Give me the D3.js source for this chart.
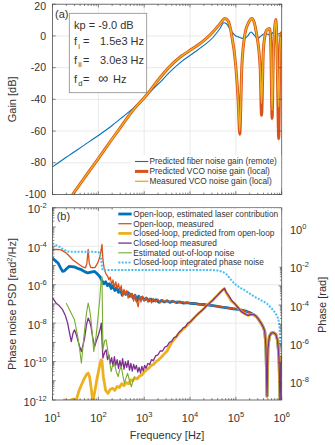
<!DOCTYPE html>
<html>
<head>
<meta charset="utf-8">
<script src="https://cdn.jsdelivr.net/npm/d3@7"></script>
<style>
  body { margin: 0; background: #fff; }
  svg { display: block; font-family: "Liberation Sans", Arial, sans-serif; }
</style>
</head>
<body>
<svg id="chart" width="335" height="445"></svg>
<script>
// Panel (a) noise gains: [log10 f (Hz), gain (dB)]
const fiberGain = [[1.0,-82.6],[1.3,-76.5],[1.7,-68.7],[2.0,-62.8],[2.3,-56.5],[2.53,-51.1],[2.75,-45.8],[3.05,-37.4],
  [3.34,-29.5],[3.55,-23],[3.8,-16.5],[4.06,-11.1],[4.3,-6],[4.5,-1],[4.65,4.5],[4.74,8.3],[4.8,7.5],[4.9,3],[5.0,0],
  [5.05,-0.6],[5.12,-1.4],[5.19,-1.6],[5.26,0],[5.33,2.5],[5.4,0.5],[5.47,-1.6],[5.55,0],[5.63,1.5],[5.7,1],[5.75,0.2],
  [5.8,2],[5.85,2.5],[5.9,1],[5.95,1.5],[6.0,2.3]];
const vcoGainPredicted = [[1.38,-102.5],[1.44,-100],[1.7,-89.4],[2.0,-77.3],[2.3,-65],[2.5,-57],[2.75,-47],[3.05,-37.4],
  [3.34,-26.5],[3.55,-19.5],[3.8,-13],[4.06,-8],[4.3,-3],[4.5,2.5],[4.65,7.5],[4.76,11],[4.83,9.5],[4.9,2],[5.0,-19.6],
  [5.05,-40.6],[5.085,-62],[5.13,-19.6],[5.2,1.5],[5.27,8],[5.35,11],[5.4,8.5],[5.45,1.5],[5.53,-19.6],[5.56,-50],
  [5.6,-9],[5.635,0],[5.67,3.6],[5.74,4.7],[5.765,-10],[5.79,-52],[5.82,-9],[5.85,6],[5.87,10.3],[5.89,1.5],
  [5.905,-19.6],[5.935,-64.8],[5.96,-9],[5.98,-1],[6.0,2.5]];
const vcoGainMeasured = [[1.38,-102.5],[1.44,-100],[1.7,-89.4],[2.0,-77.3],[2.3,-65],[2.5,-57],[2.75,-47],[3.05,-37.4],
  [3.34,-26.5],[3.55,-19.5],[3.8,-13],[4.06,-8],[4.3,-3],[4.5,2.5],[4.65,7.5],[4.76,11],[4.83,9.5],[4.9,2],[5.0,-19.6],
  [5.05,-40.6],[5.085,-60],[5.13,-19.6],[5.2,1.5],[5.27,8],[5.35,11],[5.4,8.5],[5.45,1.5],[5.53,-19.6],[5.56,-42.6],
  [5.6,-9],[5.635,0],[5.67,3.6],[5.74,4.7],[5.765,-10],[5.79,-47],[5.82,-9],[5.85,6],[5.87,10.3],[5.89,1.5],
  [5.905,-19.6],[5.935,-44.8],[5.96,-9],[5.98,-1],[6.0,2.5]];

// Panel (b) phase noise: [log10 f (Hz), log10 PSD (rad^2/Hz)]
const highFreqTail = [[5.55,-8.0],[5.6,-8.22],[5.63,-8.42],[5.655,-9.2],[5.68,-11.8],[5.70,-9.3],[5.73,-8.7],[5.77,-8.52],
  [5.82,-8.5],[5.87,-8.58],[5.91,-8.9],[5.94,-9.8],[5.965,-12.2],[5.98,-10.2],[6.0,-9.7]];
const olLaser = [[1.0,-4.61],[1.06,-4.75],[1.12,-4.87],[1.17,-5.1],[1.22,-5.31],[1.26,-5.28],[1.30,-5.18],[1.36,-5.05],
  [1.42,-5.06],[1.48,-5.08],[1.55,-5.15],[1.63,-5.22],[1.70,-5.32],[1.77,-5.39],[1.84,-5.35],[1.92,-5.31],[1.98,-5.45],
  [2.03,-5.57],[2.08,-5.8],[2.12,-5.95],[2.16,-5.85],[2.2,-6.05],[2.24,-5.95],[2.28,-6.2],[2.32,-6.05],[2.36,-6.3],
  [2.40,-6.15],[2.44,-6.4],[2.48,-6.2],[2.52,-6.55],[2.56,-6.35],[2.60,-6.5],[2.64,-6.4],[2.68,-6.6],[2.72,-6.5],
  [2.76,-6.7],[2.80,-6.55],[2.84,-6.85],[2.88,-6.6],[2.92,-6.75],[2.96,-6.65],[3.0,-6.8],[3.05,-6.7],[3.1,-6.85],
  [3.15,-6.75],[3.2,-6.85],[3.26,-6.78],[3.32,-6.92],[3.38,-6.82],[3.44,-6.9],[3.5,-6.84],[3.56,-6.92],[3.62,-6.86],
  [3.7,-6.93],[3.78,-6.9],[3.86,-6.96],[3.94,-6.93],[4.02,-6.98],[4.1,-6.97],[4.2,-7.02],[4.3,-7.03],[4.4,-7.06],
  [4.5,-7.09],[4.6,-7.13],[4.7,-7.17],[4.8,-7.2],[4.9,-7.24],[5.0,-7.27],[5.1,-7.31],[5.2,-7.36],[5.3,-7.45],
  [5.38,-7.55],[5.45,-7.66],[5.5,-7.82]].concat(highFreqTail);
const olMeasured = [[1.0,-4.18],[1.1,-4.17],[1.19,-4.19],[1.25,-4.28],[1.30,-4.35],[1.37,-4.52],[1.44,-4.70],[1.52,-4.85],
  [1.59,-4.96],[1.66,-5.08],[1.72,-5.12],[1.75,-4.9],[1.778,-4.17],[1.80,-4.85],[1.83,-5.1],[1.88,-5.12],[1.93,-5.1],
  [1.99,-4.85],[2.04,-4.5],[2.079,-3.91],[2.1,-4.7],[2.13,-5.22],[2.17,-5.45],[2.2,-5.55],[2.23,-5.75],[2.26,-5.6],
  [2.29,-6.0],[2.32,-5.75],[2.35,-6.15],[2.38,-5.85],[2.41,-6.2],[2.44,-5.95],[2.47,-6.35],[2.5,-6.05],[2.53,-6.6],
  [2.56,-6.25],[2.59,-6.55],[2.62,-6.3],[2.65,-6.7],[2.68,-6.4],[2.71,-6.65],[2.74,-6.45],[2.77,-6.85],[2.8,-6.5],
  [2.83,-6.8],[2.87,-7.15],[2.9,-6.6],[2.93,-6.9],[2.96,-6.6],[3.0,-6.85],[3.04,-6.65],[3.08,-6.9],[3.12,-6.7],
  [3.16,-6.95],[3.2,-6.72],[3.25,-6.9],[3.3,-6.75],[3.35,-6.95],[3.4,-6.78],[3.45,-6.9],[3.5,-6.8],[3.55,-6.92],
  [3.6,-6.82],[3.66,-6.93],[3.72,-6.85],[3.78,-6.95],[3.84,-6.88],[3.9,-6.97],[3.96,-6.92],[4.03,-7.0],[4.1,-6.95],
  [4.18,-7.04],[4.26,-7.0],[4.34,-7.07],[4.42,-7.05],[4.5,-7.1],[4.6,-7.12],[4.7,-7.16],[4.8,-7.2],[4.9,-7.23],
  [5.0,-7.27],[5.1,-7.31],[5.2,-7.36],[5.3,-7.45],[5.38,-7.55],[5.45,-7.66],[5.5,-7.82]].concat(highFreqTail);
const clPredicted = [[1.0,-13.5],[1.15,-12.9],[1.26,-12.0],[1.35,-12.05],[1.45,-11.95],[1.52,-12.0],[1.58,-11.5],
  [1.63,-11.22],[1.7,-10.85],[1.75,-10.65],[1.778,-10.6],[1.81,-10.8],[1.85,-11.5],[1.88,-12.1],[1.92,-11.6],[1.97,-10.9],
  [2.03,-10.2],[2.06,-9.91],[2.079,-9.95],[2.11,-10.8],[2.16,-11.5],[2.21,-11.65],[2.26,-11.45],[2.31,-11.39],[2.36,-11.5],
  [2.41,-11.3],[2.46,-11.35],[2.51,-11.15],[2.56,-11.25],[2.61,-11.1],[2.66,-11.15],[2.71,-10.95],[2.75,-11.0],
  [2.8,-10.85],[2.85,-10.9],[2.9,-10.75],[2.95,-10.7],[3.0,-10.55],[3.05,-10.43],[3.1,-10.35],[3.15,-10.2],[3.2,-10.15],
  [3.26,-10.0],[3.32,-9.9],[3.38,-9.75],[3.44,-9.6],[3.5,-9.45],[3.6,-9.0],[3.7,-8.72],[3.8,-8.42],[3.9,-8.2],[4.0,-7.95],
  [4.1,-7.7],[4.2,-7.47],[4.3,-7.25],[4.4,-7.0],[4.5,-6.8],[4.6,-6.55],[4.7,-6.3],[4.75,-6.2],[4.8,-6.45],[4.9,-6.85],
  [4.98,-7.0],[5.05,-7.2],[5.12,-7.4],[5.2,-7.52],[5.27,-7.6],[5.33,-7.55],[5.4,-7.56],[5.45,-7.66],[5.5,-7.82]]
  .concat(highFreqTail);
const clMeasured = [[1.0,-6.69],[1.08,-6.96],[1.15,-7.1],[1.22,-7.3],[1.28,-7.6],[1.33,-8.0],[1.37,-8.5],[1.41,-8.96],
  [1.45,-8.5],[1.48,-8.35],[1.52,-8.6],[1.55,-8.87],[1.59,-9.2],[1.63,-9.48],[1.67,-9.1],[1.70,-8.78],[1.74,-8.1],
  [1.778,-7.74],[1.81,-7.9],[1.84,-8.18],[1.88,-8.8],[1.92,-9.22],[1.96,-8.9],[1.99,-8.7],[2.03,-8.4],[2.065,-8.0],
  [2.08,-8.9],[2.10,-9.82],[2.14,-9.5],[2.17,-9.39],[2.2,-9.9],[2.23,-9.65],[2.26,-10.1],[2.29,-9.8],[2.32,-10.25],
  [2.35,-9.75],[2.38,-10.2],[2.41,-9.9],[2.44,-10.35],[2.47,-9.95],[2.5,-10.3],[2.53,-9.85],[2.56,-10.4],[2.59,-10.0],
  [2.62,-10.3],[2.65,-9.95],[2.68,-10.45],[2.71,-10.1],[2.74,-10.5],[2.77,-10.15],[2.8,-10.4],[2.83,-10.2],[2.86,-10.55],
  [2.89,-10.3],[2.92,-10.6],[2.95,-10.25],[2.98,-10.5],[3.01,-10.2],[3.04,-10.35],[3.08,-10.1],[3.12,-10.15],[3.16,-9.9],
  [3.2,-9.95],[3.25,-9.7],[3.3,-9.65],[3.35,-9.45],[3.4,-9.45],[3.45,-9.25],[3.5,-9.2],[3.55,-9.0],[3.6,-8.95],
  [3.65,-8.75],[3.7,-8.7],[3.75,-8.5],[3.8,-8.4],[3.85,-8.25],[3.9,-8.2],[3.95,-8.0],[4.0,-7.95],[4.06,-7.8],[4.12,-7.65],
  [4.18,-7.5],[4.24,-7.38],[4.3,-7.25],[4.36,-7.1],[4.43,-6.96],[4.5,-6.8],[4.57,-6.62],[4.64,-6.45],[4.7,-6.3],
  [4.75,-6.2],[4.79,-6.4],[4.85,-6.6],[4.92,-6.85],[4.98,-7.0],[5.05,-7.2],[5.12,-7.4],[5.2,-7.52],[5.27,-7.6],
  [5.33,-7.55],[5.4,-7.56],[5.45,-7.66],[5.5,-7.82]].concat(highFreqTail);
const outOfLoop = [[1.30,-6.96],[1.39,-7.4],[1.48,-7.83],[1.55,-8.7],[1.60,-9.5],[1.63,-10.09],[1.67,-9.1],[1.70,-8.35],
  [1.74,-7.5],[1.778,-6.96],[1.81,-7.3],[1.84,-7.83],[1.88,-8.9],[1.90,-9.48],[1.95,-8.7],[1.99,-7.8],[2.03,-6.78],
  [2.06,-5.8],[2.079,-5.57],[2.09,-7.5],[2.10,-9.39],[2.14,-8.9],[2.17,-8.87],[2.21,-9.5],[2.24,-9.91],[2.28,-10.52],
  [2.31,-10.2],[2.35,-10.09],[2.39,-10.5],[2.43,-10.78],[2.47,-10.4],[2.5,-10.26],[2.54,-10.8],[2.57,-11.13],[2.61,-10.8],
  [2.64,-10.61],[2.68,-11.0],[2.72,-11.31],[2.76,-10.95],[2.79,-10.78]];
// [log10 f (Hz), log10 integrated phase (rad)] on the right axis
const clIntegrated = [[1.0,-0.78],[1.08,-0.88],[1.15,-0.96],[1.22,-1.07],[1.28,-1.15],[1.33,-1.21],[1.5,-1.22],
  [1.75,-1.22],[1.99,-1.24],[2.03,-1.3],[2.06,-1.6],[2.085,-2.1],[2.1,-2.17],[3.0,-2.17],[4.0,-2.17],[4.5,-2.18],
  [4.6,-2.2],[4.7,-2.27],[4.79,-2.38],[4.85,-2.55],[4.9,-2.7],[5.01,-2.96],[5.1,-3.1],[5.19,-3.22],[5.3,-3.4],
  [5.41,-3.57],[5.55,-3.75],[5.67,-3.91],[5.75,-4.1],[5.81,-4.26],[5.87,-4.45],[5.92,-4.7],[5.95,-5.1],[5.96,-5.48],
  [5.97,-6.09],[6.0,-6.14]];

const gainTicks = [20, 0, -20, -40, -60, -80, -100];
const psdTickExp = [-2, -4, -6, -8, -10, -12];
const phaseTickExp = [0, -2, -4, -6, -8];
const freqTickExp = [1, 2, 3, 4, 5, 6];
const legendA = ['Predicted fiber noise gain (remote)', 'Predicted VCO noise gain (local)', 'Measured VCO noise gain (local)'];
const legendB = ['Open-loop, estimated laser contribution', 'Open-loop, measured', 'Closed-loop, predicted from open-loop',
  'Closed-loop measured', 'Estimated out-of-loop noise', 'Closed-loop integrated phase noise'];

const svg = d3.select('#chart');
const AXIS = '#4d4d4d', TXT = '#333', GRID = '#e4e4e4';
const C = { blue: '#0072BD', orange: '#D95319', yellow: '#EDB120', purple: '#7E2F8E', green: '#77AC30', cyan: '#4DBEEE' };

// Scales
const x = d3.scaleLog().domain([10, 1e6]).range([52.5, 281.7]);
const yA = d3.scaleLinear().domain([-100, 20]).range([194.5, 4.2]);
const yB = d3.scaleLog().domain([1e-12, 1e-2]).range([400, 207.8]);
const yP = d3.scaleLog().domain([10 ** -8.95, 10 ** 1.07]).range([400, 207.8]);
const L = x.range()[0], R = x.range()[1];
const isDecade = (d) => Math.abs(Math.log10(d) - Math.round(Math.log10(d))) < 1e-6;

// Clip paths
const defs = svg.append('defs');
[['clip-a', yA], ['clip-b', yB]].forEach(([id, y]) => {
    defs.append('clipPath').attr('id', id).append('rect')
        .attr('x', L).attr('y', y.range()[1])
        .attr('width', R - L).attr('height', y.range()[0] - y.range()[1]);
});

// Grid lines for one panel
function drawGrid(g, y, yVals) {
    let top = y.range()[1], bot = y.range()[0];
    g.selectAll(null).data(freqTickExp.slice(1, -1)).enter().append('line')
        .attr('x1', (d) => x(10 ** d)).attr('x2', (d) => x(10 ** d))
        .attr('y1', top).attr('y2', bot)
        .attr('stroke', GRID).attr('stroke-width', 0.8);
    g.selectAll(null).data(yVals).enter().append('line')
        .attr('x1', L).attr('x2', R)
        .attr('y1', (d) => y(d)).attr('y2', (d) => y(d))
        .attr('stroke', GRID).attr('stroke-width', 0.8);
}

// Frame with inward ticks on top and bottom
function drawFrame(g, y) {
    let top = y.range()[1], bot = y.range()[0];
    g.append('rect').attr('x', L).attr('y', top).attr('width', R - L).attr('height', bot - top)
        .attr('fill', 'none').attr('stroke', AXIS).attr('stroke-width', 0.8);
    g.selectAll(null).data(x.ticks()).enter().append('path')
        .attr('d', (d) => {
            let len = isDecade(d) ? 3.2 : 1.8;
            return 'M' + x(d) + ',' + top + 'v' + len + 'M' + x(d) + ',' + bot + 'v' + (-len);
        })
        .attr('stroke', AXIS).attr('stroke-width', 0.7);
}

function powLabel(sel, exp) {
    sel.text('10').append('tspan').attr('dy', -5).attr('font-size', 7.5).text(exp);
}

// ===== Panel (a) =====
const gA = svg.append('g').attr('id', 'panel-a');
drawGrid(gA, yA, gainTicks.slice(1, -1));

const lineA = d3.line().x((d) => x(10 ** d[0])).y((d) => yA(d[1])).curve(d3.curveMonotoneX);
const curvesA = gA.append('g').attr('clip-path', 'url(#clip-a)');
[
    { data: fiberGain, color: C.blue, width: 1.1 },
    { data: vcoGainPredicted, color: C.orange, width: 3 },
    { data: vcoGainMeasured, color: C.yellow, width: 1.4 },
].forEach((s) => {
    curvesA.append('path').attr('d', lineA(s.data)).attr('fill', 'none')
        .attr('stroke', s.color).attr('stroke-width', s.width).attr('stroke-linejoin', 'round');
});

drawFrame(gA, yA);
gA.selectAll(null).data(gainTicks).enter().append('path')
    .attr('d', (d) => 'M' + L + ',' + yA(d) + 'h3.2M' + R + ',' + yA(d) + 'h-3.2')
    .attr('stroke', AXIS).attr('stroke-width', 0.7);
// top label kept inside the page
gA.selectAll(null).data(gainTicks).enter().append('text')
    .attr('x', 46).attr('y', (d) => Math.max(yA(d) + 3.7, 9.8))
    .attr('text-anchor', 'end').attr('font-size', 10.5).attr('fill', TXT)
    .text((d) => d);
gA.append('text').attr('transform', 'translate(16,' + d3.mean(yA.range()) + ') rotate(-90)')
    .attr('text-anchor', 'middle').attr('font-size', 11).attr('fill', TXT).text('Gain [dB]');
gA.append('text').attr('x', 55).attr('y', 17.5).attr('font-size', 11).attr('fill', TXT).text('(a)');

// Parameter box
const box = gA.append('g');
box.append('rect').attr('x', 69.3).attr('y', 13.3).attr('width', 77.4).attr('height', 79.4)
    .attr('fill', '#fff').attr('stroke', '#8a8a8a').attr('stroke-width', 0.8);
box.append('text').attr('x', 74).attr('y', 29.3).attr('font-size', 11).attr('fill', TXT)
    .attr('xml:space', 'preserve').text('kp = -9.0 dB');
const params = [
    { sub: 'i', value: '1.5e3 Hz', y: 45 },
    { sub: 'ii', value: '3.0e3 Hz', y: 63.5 },
    { sub: 'd', value: null, y: 82.7 },
];
params.forEach((p) => {
    let t = box.append('text').attr('y', p.y).attr('font-size', 11).attr('fill', TXT);
    t.append('tspan').attr('x', 74).text('f');
    t.append('tspan').attr('x', 78.3).attr('dy', 3.5).attr('font-size', 7.5).text(p.sub);
    t.append('tspan').attr('x', 83).attr('dy', -3.5).text('=');
    if (p.value) {
        t.append('tspan').attr('x', 100).text(p.value);
    } else {
        t.append('tspan').attr('x', 98).attr('font-size', 14).text('\u221E');
        t.append('tspan').attr('x', 113).text('Hz');
    }
});

// Legend (a)
const legA = gA.append('g');
legA.append('rect').attr('x', 130).attr('y', 155).attr('width', R - 130.5).attr('height', 33).attr('fill', '#fff');
const legAStyles = [{ c: C.blue, w: 1.1 }, { c: C.orange, w: 3 }, { c: C.yellow, w: 1.4 }];
legA.selectAll(null).data(legendA).enter().append('line')
    .attr('x1', 135).attr('x2', 148.3)
    .attr('y1', (d, i) => 161.5 + i * 9.9).attr('y2', (d, i) => 161.5 + i * 9.9)
    .attr('stroke', (d, i) => legAStyles[i].c).attr('stroke-width', (d, i) => legAStyles[i].w);
legA.selectAll(null).data(legendA).enter().append('text')
    .attr('x', 149.5).attr('y', (d, i) => 161.5 + i * 9.9 + 2.9)
    .attr('font-size', 8.3).attr('fill', TXT).text((d) => d);

// ===== Panel (b) =====
const gB = svg.append('g').attr('id', 'panel-b');
drawGrid(gB, yB, psdTickExp.slice(1, -1).map((e) => 10 ** e));

const lineB = d3.line().x((d) => x(10 ** d[0])).y((d) => yB(10 ** d[1]));
const lineP = d3.line().x((d) => x(10 ** d[0])).y((d) => yP(10 ** d[1])).curve(d3.curveMonotoneX);
const curvesB = gB.append('g').attr('clip-path', 'url(#clip-b)');
const seriesB = [
    { data: olLaser, color: C.blue, width: 2.8 },
    { data: olMeasured, color: C.orange, width: 1.3 },
    { data: clPredicted, color: C.yellow, width: 2.8 },
    { data: clMeasured, color: C.purple, width: 1.3 },
    { data: outOfLoop, color: C.green, width: 1.1 },
];
seriesB.forEach((s) => {
    curvesB.append('path').attr('d', lineB(s.data)).attr('fill', 'none')
        .attr('stroke', s.color).attr('stroke-width', s.width).attr('stroke-linejoin', 'round');
});
curvesB.append('path').attr('d', lineP(clIntegrated)).attr('fill', 'none')
    .attr('stroke', C.cyan).attr('stroke-width', 2).attr('stroke-dasharray', '2,1.4');

drawFrame(gB, yB);
gB.selectAll(null).data(yB.ticks(20)).enter().append('path')
    .attr('d', (d) => 'M' + L + ',' + yB(d) + 'h' + (isDecade(d) ? 3.2 : 1.8))
    .attr('stroke', AXIS).attr('stroke-width', 0.7);
gB.selectAll(null).data(yP.ticks(20)).enter().append('path')
    .attr('d', (d) => 'M' + R + ',' + yP(d) + 'h' + (isDecade(d) ? -3.2 : -1.8))
    .attr('stroke', AXIS).attr('stroke-width', 0.7);

gB.selectAll(null).data(psdTickExp).enter().append('text')
    .attr('x', 46.7).attr('y', (d) => yB(10 ** d) + 5.5)
    .attr('text-anchor', 'end').attr('font-size', 11).attr('fill', TXT)
    .each(function (d) { powLabel(d3.select(this), d); });
gB.selectAll(null).data(phaseTickExp).enter().append('text')
    .attr('x', 290).attr('y', (d) => yP(10 ** d) + 5.5)
    .attr('font-size', 11).attr('fill', TXT)
    .each(function (d) { powLabel(d3.select(this), d); });
gB.selectAll(null).data(freqTickExp).enter().append('text')
    .attr('x', (d) => x(10 ** d)).attr('y', 421.7)
    .attr('text-anchor', 'middle').attr('font-size', 11).attr('fill', TXT)
    .each(function (d) { powLabel(d3.select(this), d); });

const psdLabel = gB.append('text')
    .attr('transform', 'translate(16,' + d3.mean(yB.range()) + ') rotate(-90)')
    .attr('text-anchor', 'middle').attr('font-size', 11).attr('fill', TXT).text('Phase noise PSD [rad');
psdLabel.append('tspan').attr('dy', -4).attr('font-size', 7.5).text('2');
psdLabel.append('tspan').attr('dy', 4).text('/Hz]');
gB.append('text').attr('transform', 'translate(325.5,' + (d3.mean(yB.range()) + 1) + ') rotate(-90)')
    .attr('text-anchor', 'middle').attr('font-size', 11).attr('fill', TXT).text('Phase [rad]');
gB.append('text').attr('x', (L + R) / 2).attr('y', 439)
    .attr('text-anchor', 'middle').attr('font-size', 11).attr('fill', TXT).text('Frequency [Hz]');
gB.append('text').attr('x', 56.7).attr('y', 219.8).attr('font-size', 11).attr('fill', TXT).text('(b)');

// Legend (b)
const legB = gB.append('g');
legB.append('rect').attr('x', 113).attr('y', 208.3).attr('width', R - 113.5).attr('height', 58.5).attr('fill', '#fff');
const legBStyles = [
    { c: C.blue, w: 2.8 }, { c: C.orange, w: 1.3 }, { c: C.yellow, w: 2.8 },
    { c: C.purple, w: 1.3 }, { c: C.green, w: 1.1 }, { c: C.cyan, w: 2, dash: '2,1.4' },
];
legB.selectAll(null).data(legendB).enter().append('line')
    .attr('x1', 118.3).attr('x2', 131.7)
    .attr('y1', (d, i) => 214 + i * 9.7).attr('y2', (d, i) => 214 + i * 9.7)
    .attr('stroke', (d, i) => legBStyles[i].c).attr('stroke-width', (d, i) => legBStyles[i].w)
    .attr('stroke-dasharray', (d, i) => legBStyles[i].dash || null);
legB.selectAll(null).data(legendB).enter().append('text')
    .attr('x', 133.3).attr('y', (d, i) => 214 + i * 9.7 + 2.9)
    .attr('font-size', 8.3).attr('fill', TXT).text((d) => d);
</script>
</body>
</html>
